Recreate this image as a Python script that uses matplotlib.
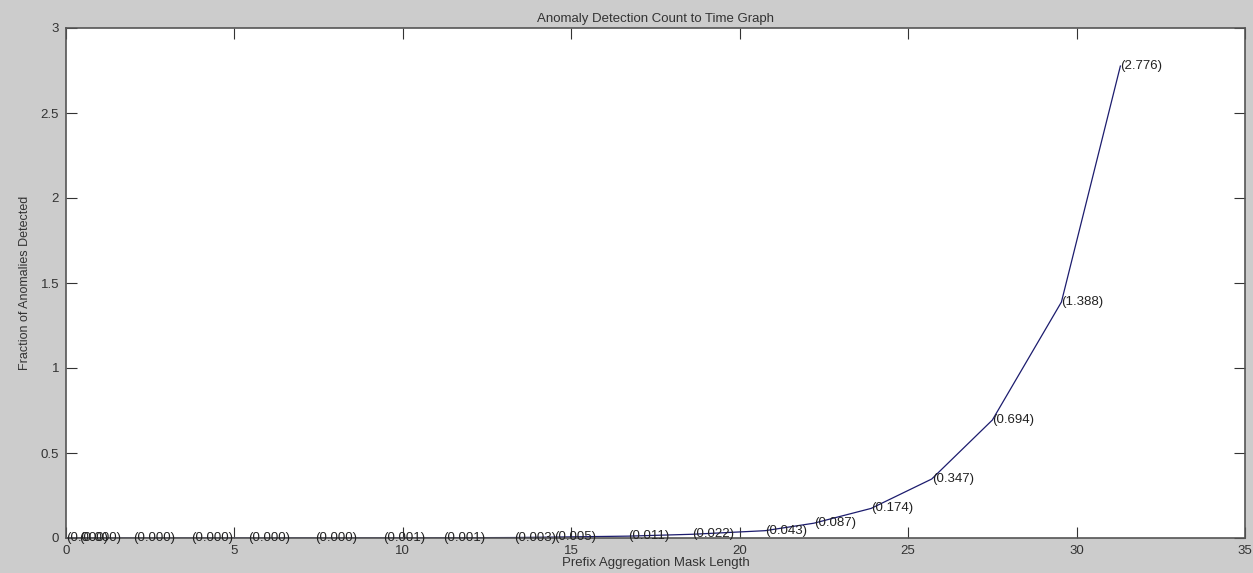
import numpy as np
import matplotlib
matplotlib.use('Agg')
import matplotlib.pyplot as plt

# prefix mask length positions and detection fractions
mask_len = [0.0, 0.4, 2.0, 3.7, 5.4, 7.4, 9.4, 11.2, 13.3, 14.5, 16.7,
            18.6, 20.75, 22.2, 23.9, 25.7, 27.5, 29.55, 31.3]
fraction = [0.00001, 0.00002, 0.00004, 0.00008, 0.00017, 0.00034, 0.0007,
            0.0014, 0.0027, 0.0054, 0.011, 0.022, 0.043, 0.087, 0.174,
            0.347, 0.694, 1.388, 2.776]
xticks = [0, 5, 10, 15, 20, 25, 30, 35]
yticks = [0, 0.5, 1, 1.5, 2, 2.5, 3]

plt.rcParams['font.family'] = ['Liberation Sans', 'DejaVu Sans']

fig = plt.figure(figsize=(12.53, 5.73), dpi=100, facecolor='#cccccc')
ax = fig.add_axes([66/1253, 1-538/573, (1245-66)/1253, (538-28)/573])
ax.set_facecolor('white')

ax.plot(mask_len, fraction, color='#1c1c6e', lw=0.9)
for xv, yv in zip(mask_len, fraction):
    ax.text(xv, yv, '(%.3f)' % yv, fontsize=9.5, color='#222222',
            ha='left', va='center')

ax.set_xlim(0, 35)
ax.set_ylim(0, 3)
ax.set_xticks(xticks)
ax.set_xticklabels([str(t) for t in xticks])
ax.set_yticks(yticks)
ax.set_yticklabels(['0', '0.5', '1', '1.5', '2', '2.5', '3'])
ax.tick_params(direction='in', length=8, width=0.8, top=True, right=True,
               labelsize=9.5, colors='#333333', pad=5)
for s in ax.spines.values():
    s.set_color('#555555')
    s.set_linewidth(1.2)

ax.set_title('Anomaly Detection Count to Time Graph', fontsize=9.5,
             color='#333333', pad=4)
ax.set_xlabel('Prefix Aggregation Mask Length', fontsize=9.5, color='#333333',
              labelpad=0)
ax.set_ylabel('Fraction of Anomalies Detected', fontsize=9, color='#333333',
              labelpad=7)

plt.savefig('out.png', dpi=100, facecolor=fig.get_facecolor())
plt.close()
